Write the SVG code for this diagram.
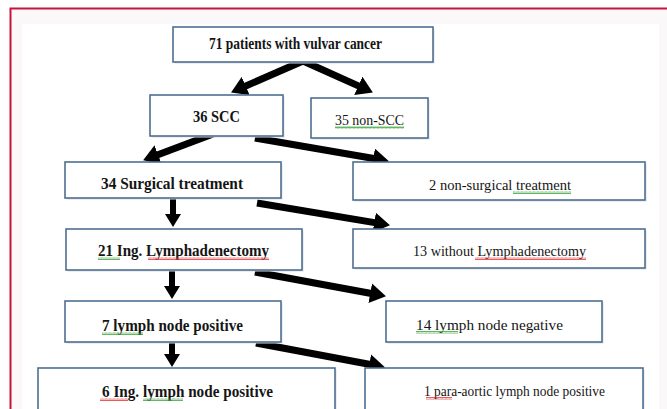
<svg xmlns="http://www.w3.org/2000/svg" width="667" height="409" viewBox="0 0 667 409">
<style>
.box{fill:#fff;stroke:#4f6e91;stroke-width:1.6}
.sh{fill:#d9dde2}
.b{font-weight:bold;font-size:17px}
.n{font-size:15px}
.arr{stroke:#000;stroke-width:7;fill:none;marker-end:url(#ah)}
.arv{stroke:#000;stroke-width:6;fill:none;marker-end:url(#ahv)}
</style>
<defs>
<marker id="ah" markerUnits="userSpaceOnUse" viewBox="0 0 16 20" markerWidth="16" markerHeight="20" refX="8" refY="10" orient="auto"><path d="M0,0 L16,10 L0,20 Z" fill="#000"/></marker>
<marker id="ahv" markerUnits="userSpaceOnUse" viewBox="0 0 13 16" markerWidth="13" markerHeight="16" refX="7" refY="8" orient="auto"><path d="M0,0 L13,8 L0,16 Z" fill="#000"/></marker>
<pattern id="gw" patternUnits="userSpaceOnUse" width="4" height="3"><path d="M0,2.5 L1,0.5 L2,2.5 L3,0.5 L4,2.5" stroke="#3aa53a" stroke-width="0.8" fill="none"/></pattern>
<pattern id="rw" patternUnits="userSpaceOnUse" width="4" height="3"><path d="M0,2.5 L1,0.5 L2,2.5 L3,0.5 L4,2.5" stroke="#e03434" stroke-width="0.8" fill="none"/></pattern>
</defs>
<rect x="0" y="0" width="667" height="409" fill="#fff"/>
<rect x="10" y="8" width="660" height="405" fill="#faf8f9"/>
<path d="M10.5,409 L10.5,8.5 L667,8.5" stroke="#c8143c" stroke-width="2" fill="none"/>
<rect x="22" y="24" width="637" height="390" fill="#fff"/>

<g id="connectors">
<line class="arr" x1="303" y1="61" x2="238.4" y2="89.2"/>
<line class="arr" x1="303" y1="61" x2="365.6" y2="89.1"/>
<line class="arr" x1="213" y1="134" x2="150.6" y2="157.5"/>
<line class="arr" x1="255" y1="138" x2="381.1" y2="159.8"/>
<line class="arv" x1="173" y1="198" x2="173" y2="221"/>
<line class="arr" x1="257" y1="203" x2="382.1" y2="223.9"/>
<line class="arv" x1="172" y1="270" x2="172" y2="293"/>
<line class="arr" x1="255" y1="272" x2="378.1" y2="294.7"/>
<line class="arv" x1="172" y1="343" x2="172" y2="361"/>
<line class="arr" x1="256" y1="343" x2="377.1" y2="365.7"/>
</g>

<g id="nodes" font-family="Liberation Serif, DejaVu Serif, serif" fill="#151515">
<g id="n1"><rect class="sh" x="174.5" y="28.5" width="260" height="35"/><rect class="box" x="173" y="27" width="260" height="35"/>
<text class="b" x="209" y="49" textLength="173" lengthAdjust="spacingAndGlyphs">71 patients with vulvar cancer</text></g>

<g id="n2"><rect class="sh" x="151.5" y="96.5" width="133" height="41"/><rect class="box" x="150" y="95" width="133" height="41"/>
<text class="b" x="193" y="122" textLength="47" lengthAdjust="spacingAndGlyphs">36 SCC</text></g>

<g id="n3"><rect class="sh" x="312.5" y="99.5" width="117" height="40"/><rect class="box" x="311" y="98" width="117" height="40"/>
<text class="n" x="335" y="125" textLength="69" lengthAdjust="spacingAndGlyphs">35 non-SCC</text>
<rect x="335" y="126" width="69" height="3" fill="url(#gw)"/></g>

<g id="n4"><rect class="sh" x="66.5" y="163.5" width="216" height="36"/><rect class="box" x="65" y="162" width="216" height="36"/>
<text class="b" x="101" y="189" textLength="142" lengthAdjust="spacingAndGlyphs">34 Surgical treatment</text></g>

<g id="n5"><rect class="sh" x="354.5" y="163.5" width="292" height="38"/><rect class="box" x="353" y="162" width="292" height="38"/>
<text class="n" x="429" y="190" textLength="142" lengthAdjust="spacingAndGlyphs">2 non-surgical treatment</text>
<rect x="513" y="191" width="58" height="3" fill="url(#gw)"/></g>

<g id="n6"><rect class="sh" x="67.5" y="230.5" width="236" height="41"/><rect class="box" x="66" y="229" width="236" height="41"/>
<text class="b" x="98" y="256" textLength="171" lengthAdjust="spacingAndGlyphs">21 Ing. Lymphadenectomy</text>
<rect x="98" y="257" width="22" height="3" fill="url(#gw)"/>
<rect x="148" y="257" width="121" height="3" fill="url(#rw)"/></g>

<g id="n7"><rect class="sh" x="354.5" y="230.5" width="292" height="39"/><rect class="box" x="353" y="229" width="292" height="39"/>
<text class="n" x="413" y="256" textLength="173" lengthAdjust="spacingAndGlyphs">13 without Lymphadenectomy</text>
<rect x="475" y="257" width="111" height="3" fill="url(#rw)"/></g>

<g id="n8"><rect class="sh" x="66.5" y="302.5" width="216" height="41"/><rect class="box" x="65" y="301" width="216" height="41"/>
<text class="b" x="102" y="331" textLength="141" lengthAdjust="spacingAndGlyphs">7 lymph node positive</text>
<rect x="102" y="332" width="41" height="3" fill="url(#gw)"/></g>

<g id="n9"><rect class="sh" x="387.5" y="302.5" width="216" height="41"/><rect class="box" x="386" y="301" width="216" height="41"/>
<text class="n" x="416" y="330" textLength="147" lengthAdjust="spacingAndGlyphs">14 lymph node negative</text>
<rect x="416" y="331" width="42" height="3" fill="url(#gw)"/></g>

<g id="n10"><rect class="sh" x="39.5" y="369.5" width="297" height="45"/><rect class="box" x="38" y="368" width="297" height="45"/>
<text class="b" x="102" y="397" textLength="171" lengthAdjust="spacingAndGlyphs">6 Ing. lymph node positive</text>
<rect x="100" y="398" width="28" height="3" fill="url(#rw)"/>
<rect x="143" y="398" width="40" height="3" fill="url(#gw)"/></g>

<g id="n11"><rect class="sh" x="366.5" y="369.5" width="278" height="45"/><rect class="box" x="365" y="368" width="278" height="45"/>
<text class="n" x="424" y="396" textLength="181" lengthAdjust="spacingAndGlyphs">1 para-aortic lymph node positive</text>
<rect x="426" y="397" width="26" height="3" fill="url(#rw)"/></g>
</g>
</svg>
